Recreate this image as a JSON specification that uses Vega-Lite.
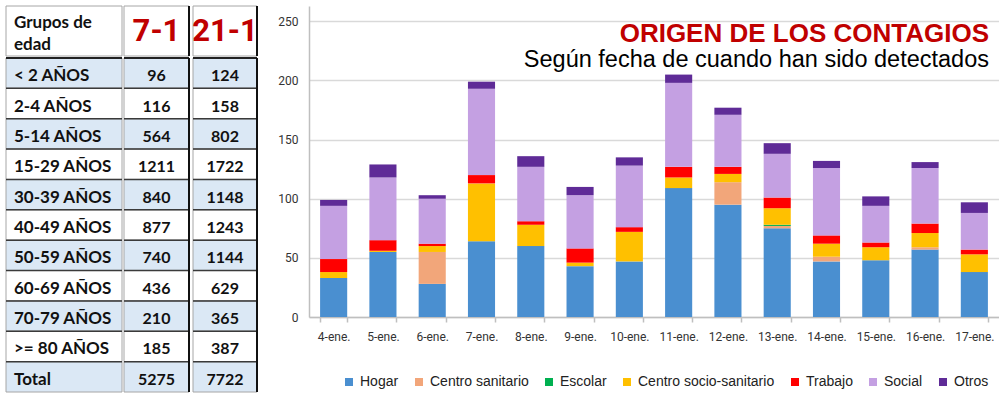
{
  "$schema": "https://vega.github.io/schema/vega-lite/v6.json",
  "background": "white",
  "padding": {"left": 5, "top": 5, "right": 0, "bottom": 0},
  "config": {"view": {"stroke": null}, "concat": {"spacing": 0}},
  "datasets": {
    "tabla": [
      {"grupo": "< 2 AÑOS", "d7": 96, "d21": 124},
      {"grupo": "2-4 AÑOS", "d7": 116, "d21": 158},
      {"grupo": "5-14 AÑOS", "d7": 564, "d21": 802},
      {"grupo": "15-29 AÑOS", "d7": 1211, "d21": 1722},
      {"grupo": "30-39 AÑOS", "d7": 840, "d21": 1148},
      {"grupo": "40-49 AÑOS", "d7": 877, "d21": 1243},
      {"grupo": "50-59 AÑOS", "d7": 740, "d21": 1144},
      {"grupo": "60-69 AÑOS", "d7": 436, "d21": 629},
      {"grupo": "70-79 AÑOS", "d7": 210, "d21": 365},
      {"grupo": ">= 80 AÑOS", "d7": 185, "d21": 387},
      {"grupo": "Total", "d7": 5275, "d21": 7722}
    ],
    "cabecera": [{"c1": "Grupos de\nedad", "c2": "7-1", "c3": "21-1"}],
    "contagios": [
      {"fecha": "4-ene.", "Hogar": 33, "Centro sanitario": 0, "Escolar": 0, "Centro socio-sanitario": 5, "Trabajo": 11, "Social": 45, "Otros": 5},
      {"fecha": "5-ene.", "Hogar": 55, "Centro sanitario": 0, "Escolar": 0, "Centro socio-sanitario": 1, "Trabajo": 9, "Social": 53, "Otros": 11},
      {"fecha": "6-ene.", "Hogar": 28, "Centro sanitario": 27, "Escolar": 0, "Centro socio-sanitario": 5, "Trabajo": 2, "Social": 38, "Otros": 3},
      {"fecha": "7-ene.", "Hogar": 64, "Centro sanitario": 0, "Escolar": 0, "Centro socio-sanitario": 49, "Trabajo": 7, "Social": 73, "Otros": 6},
      {"fecha": "8-ene.", "Hogar": 60, "Centro sanitario": 0, "Escolar": 0, "Centro socio-sanitario": 18, "Trabajo": 3, "Social": 46, "Otros": 9},
      {"fecha": "9-ene.", "Hogar": 43, "Centro sanitario": 0, "Escolar": 0, "Centro socio-sanitario": 3, "Trabajo": 12, "Social": 45, "Otros": 7},
      {"fecha": "10-ene.", "Hogar": 47, "Centro sanitario": 0, "Escolar": 0, "Centro socio-sanitario": 25, "Trabajo": 4, "Social": 52, "Otros": 7},
      {"fecha": "11-ene.", "Hogar": 109, "Centro sanitario": 0, "Escolar": 0, "Centro socio-sanitario": 9, "Trabajo": 9, "Social": 71, "Otros": 7},
      {"fecha": "12-ene.", "Hogar": 95, "Centro sanitario": 19, "Escolar": 0, "Centro socio-sanitario": 7, "Trabajo": 6, "Social": 44, "Otros": 6},
      {"fecha": "13-ene.", "Hogar": 75, "Centro sanitario": 2, "Escolar": 1, "Centro socio-sanitario": 14, "Trabajo": 9, "Social": 37, "Otros": 9},
      {"fecha": "14-ene.", "Hogar": 47, "Centro sanitario": 4, "Escolar": 0, "Centro socio-sanitario": 11, "Trabajo": 7, "Social": 57, "Otros": 6},
      {"fecha": "15-ene.", "Hogar": 48, "Centro sanitario": 0, "Escolar": 0, "Centro socio-sanitario": 11, "Trabajo": 4, "Social": 31, "Otros": 8},
      {"fecha": "16-ene.", "Hogar": 57, "Centro sanitario": 2, "Escolar": 0, "Centro socio-sanitario": 12, "Trabajo": 8, "Social": 47, "Otros": 5},
      {"fecha": "17-ene.", "Hogar": 38, "Centro sanitario": 0, "Escolar": 0, "Centro socio-sanitario": 15, "Trabajo": 4, "Social": 31, "Otros": 9}
    ]
  },
  "hconcat": [
    {
      "vconcat": [
        {
          "hconcat": [
            {
              "hconcat": [
                {
                  "width": 116, "height": 50,
                  "data": {"name": "cabecera"},
                  "layer": [
                    {"mark": {"type": "rect", "fill": "white", "stroke": "#a6a6a6", "strokeWidth": 1},
                     "encoding": {"y": {"field": "c1", "type": "nominal", "axis": null, "scale": {"paddingInner": 0, "paddingOuter": 0}}}},
                    {"mark": {"type": "text", "align": "left", "baseline": "middle", "lineBreak": "\n", "lineHeight": 22, "dy": -8, "font": "Lato", "fontWeight": "bold", "fontSize": 17, "color": "#111"},
                     "encoding": {"y": {"field": "c1", "type": "nominal", "axis": null}, "x": {"value": 8}, "text": {"field": "c1"}}}
                  ]
                },
                {
                  "width": 65, "height": 50,
                  "data": {"name": "cabecera"},
                  "layer": [
                    {"mark": {"type": "rect", "fill": "white", "stroke": "#a6a6a6", "strokeWidth": 1},
                     "encoding": {"y": {"field": "c2", "type": "nominal", "axis": null, "scale": {"paddingInner": 0, "paddingOuter": 0}}}},
                    {"mark": {"type": "text", "align": "center", "baseline": "middle", "dy": 1, "font": "Roboto", "fontWeight": "bold", "fontSize": 31, "color": "#c00000"},
                     "encoding": {"y": {"field": "c2", "type": "nominal", "axis": null}, "text": {"field": "c2"}}},
                    {"mark": {"type": "rule", "color": "#111", "strokeWidth": 2}, "encoding": {"x": {"value": "width"}}}
                  ]
                }
              ],
              "spacing": 0
            },
            {
              "width": 64, "height": 50,
              "data": {"name": "cabecera"},
              "layer": [
                {"mark": {"type": "rect", "fill": "white", "stroke": "#a6a6a6", "strokeWidth": 1},
                 "encoding": {"y": {"field": "c3", "type": "nominal", "axis": null, "scale": {"paddingInner": 0, "paddingOuter": 0}}}},
                {"mark": {"type": "text", "align": "center", "baseline": "middle", "dy": 1, "font": "Roboto", "fontWeight": "bold", "fontSize": 31, "color": "#c00000"},
                 "encoding": {"y": {"field": "c3", "type": "nominal", "axis": null}, "text": {"field": "c3"}}},
                {"mark": {"type": "rule", "color": "#111", "strokeWidth": 2}, "encoding": {"x": {"value": "width"}}}
              ]
            }
          ],
          "spacing": 2
        },
        {
          "hconcat": [
            {
              "hconcat": [
                {
                  "width": 116, "height": 334,
                  "data": {"name": "tabla"},
                  "layer": [
                    {"mark": {"type": "rect", "stroke": "#a6a6a6", "strokeWidth": 1},
                     "encoding": {
                       "y": {"field": "grupo", "type": "nominal", "sort": null, "axis": null, "scale": {"paddingInner": 0, "paddingOuter": 0}},
                       "fill": {"condition": {"test": "indexof(['< 2 AÑOS','5-14 AÑOS','30-39 AÑOS','50-59 AÑOS','70-79 AÑOS','Total'], datum.grupo) >= 0", "value": "#dbe8f5"}, "value": "white"}}},
                    {"mark": {"type": "rule", "color": "#3a3a3a", "strokeWidth": 1.5},
                     "encoding": {"y": {"field": "grupo", "type": "nominal", "sort": null, "axis": null, "bandPosition": 0}}},
                    {"mark": {"type": "rule", "color": "#222", "strokeWidth": 2}, "encoding": {"y": {"value": 0}}},
                    {"mark": {"type": "text", "align": "left", "baseline": "middle", "dy": 3, "font": "Lato", "fontWeight": "bold", "fontSize": 17, "color": "#111"},
                     "encoding": {"y": {"field": "grupo", "type": "nominal", "sort": null, "axis": null}, "x": {"value": 8}, "text": {"field": "grupo"}}}
                  ]
                },
                {
                  "width": 65, "height": 334,
                  "data": {"name": "tabla"},
                  "layer": [
                    {"mark": {"type": "rect", "stroke": "#a6a6a6", "strokeWidth": 1},
                     "encoding": {
                       "y": {"field": "grupo", "type": "nominal", "sort": null, "axis": null, "scale": {"paddingInner": 0, "paddingOuter": 0}},
                       "fill": {"condition": {"test": "indexof(['< 2 AÑOS','5-14 AÑOS','30-39 AÑOS','50-59 AÑOS','70-79 AÑOS','Total'], datum.grupo) >= 0", "value": "#dbe8f5"}, "value": "white"}}},
                    {"mark": {"type": "rule", "color": "#3a3a3a", "strokeWidth": 1.5},
                     "encoding": {"y": {"field": "grupo", "type": "nominal", "sort": null, "axis": null, "bandPosition": 0}}},
                    {"mark": {"type": "rule", "color": "#222", "strokeWidth": 2}, "encoding": {"y": {"value": 0}}},
                    {"mark": {"type": "rule", "color": "#111", "strokeWidth": 2}, "encoding": {"x": {"value": "width"}}},
                    {"mark": {"type": "text", "align": "center", "baseline": "middle", "dy": 3, "font": "Lato", "fontWeight": "bold", "fontSize": 16, "color": "#111"},
                     "encoding": {"y": {"field": "grupo", "type": "nominal", "sort": null, "axis": null}, "text": {"field": "d7", "type": "nominal"}}}
                  ]
                }
              ],
              "spacing": 0
            },
            {
              "width": 64, "height": 334,
              "data": {"name": "tabla"},
              "layer": [
                {"mark": {"type": "rect", "stroke": "#a6a6a6", "strokeWidth": 1},
                 "encoding": {
                   "y": {"field": "grupo", "type": "nominal", "sort": null, "axis": null, "scale": {"paddingInner": 0, "paddingOuter": 0}},
                   "fill": {"condition": {"test": "indexof(['< 2 AÑOS','5-14 AÑOS','30-39 AÑOS','50-59 AÑOS','70-79 AÑOS','Total'], datum.grupo) >= 0", "value": "#dbe8f5"}, "value": "white"}}},
                {"mark": {"type": "rule", "color": "#3a3a3a", "strokeWidth": 1.5},
                 "encoding": {"y": {"field": "grupo", "type": "nominal", "sort": null, "axis": null, "bandPosition": 0}}},
                {"mark": {"type": "rule", "color": "#222", "strokeWidth": 2}, "encoding": {"y": {"value": 0}}},
                {"mark": {"type": "rule", "color": "#111", "strokeWidth": 2}, "encoding": {"x": {"value": "width"}}},
                {"mark": {"type": "text", "align": "center", "baseline": "middle", "dy": 3, "font": "Lato", "fontWeight": "bold", "fontSize": 16, "color": "#111"},
                 "encoding": {"y": {"field": "grupo", "type": "nominal", "sort": null, "axis": null}, "text": {"field": "d21", "type": "nominal"}}}
              ]
            }
          ],
          "spacing": 2
        }
      ],
      "spacing": 0
    },
    {
      "width": 690, "height": 311,
      "data": {"name": "contagios"},
      "transform": [
        {"fold": ["Hogar", "Centro sanitario", "Escolar", "Centro socio-sanitario", "Trabajo", "Social", "Otros"], "as": ["origen", "casos"]},
        {"window": [{"op": "row_number", "as": "orden"}], "groupby": ["fecha"]}
      ],
      "title": {
        "text": "ORIGEN DE LOS CONTAGIOS",
        "subtitle": "Según fecha de cuando han sido detectados",
        "anchor": "end", "frame": "group", "orient": "top", "offset": -65, "dx": -10,
        "font": "Liberation Sans", "fontSize": 26, "fontWeight": "bold", "color": "#c00000",
        "subtitleFont": "Liberation Sans", "subtitleFontSize": 23.5, "subtitleColor": "#000", "subtitlePadding": 1
      },
      "mark": {"type": "bar"},
      "encoding": {
        "x": {
          "field": "fecha", "type": "nominal",
          "sort": ["4-ene.", "5-ene.", "6-ene.", "7-ene.", "8-ene.", "9-ene.", "10-ene.", "11-ene.", "12-ene.", "13-ene.", "14-ene.", "15-ene.", "16-ene.", "17-ene."],
          "scale": {"paddingInner": 0.45, "paddingOuter": 0.225},
          "axis": {"title": null, "labelAngle": 0, "tickBand": "extent", "tickSize": 5, "tickColor": "#bfbfbf", "tickWidth": 1.5,
                   "domainColor": "#bfbfbf", "domainWidth": 1.5, "labelPadding": 9,
                   "labelFont": "Roboto", "labelFontSize": 12, "labelColor": "#333"}
        },
        "y": {
          "field": "casos", "type": "quantitative", "stack": "zero",
          "scale": {"domain": [0, 263], "nice": false},
          "axis": {"title": null, "values": [0, 50, 100, 150, 200, 250], "ticks": false, "labelPadding": 11,
                   "domainColor": "#bfbfbf", "domainWidth": 1.5, "gridColor": "#d9d9d9", "gridWidth": 1.5,
                   "labelFont": "Roboto", "labelFontSize": 12, "labelColor": "#333"}
        },
        "order": {"field": "orden", "type": "quantitative", "sort": "ascending"},
        "color": {
          "field": "origen", "type": "nominal",
          "scale": {"domain": ["Hogar", "Centro sanitario", "Escolar", "Centro socio-sanitario", "Trabajo", "Social", "Otros"],
                    "range": ["#4a8fd0", "#f2a67a", "#00b050", "#ffc000", "#ff0000", "#c4a0e2", "#5f2b97"]},
          "legend": {"title": null, "orient": "none", "legendX": 336, "legendY": 369, "direction": "horizontal", "columns": 7,
                     "symbolType": "square", "symbolSize": 64, "symbolStrokeWidth": 0, "columnPadding": 13, "labelOffset": 4, "padding": 0,
                     "labelFont": "Liberation Sans", "labelFontSize": 14, "labelColor": "#222"}
        }
      }
    }
  ],
  "spacing": 19
}
